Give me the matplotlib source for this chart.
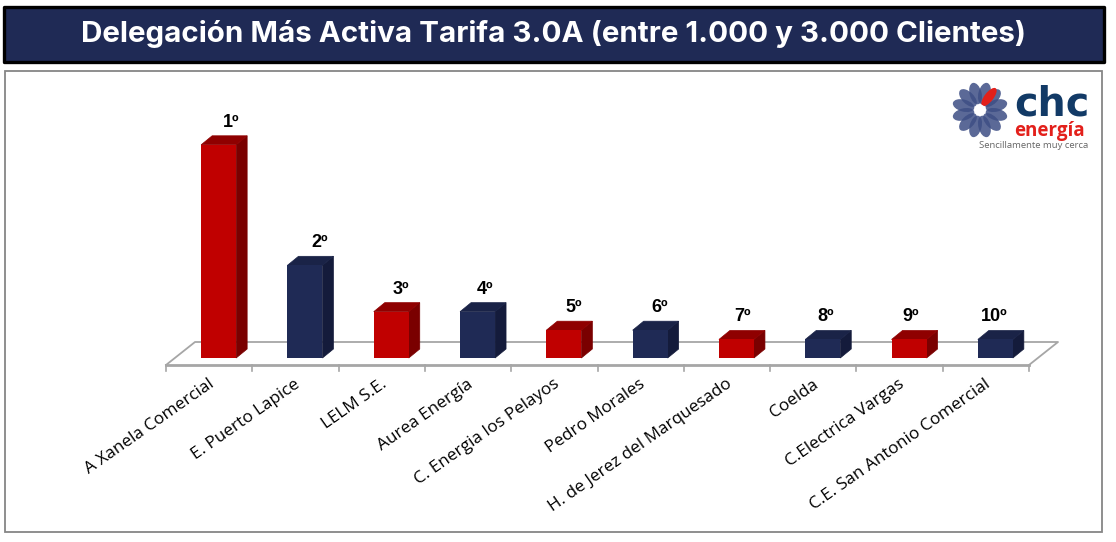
import math

import matplotlib
matplotlib.use('Agg')
import matplotlib.pyplot as plt
from matplotlib.patches import Ellipse, Polygon, Rectangle
from matplotlib.transforms import ScaledTranslation

# data
categories = ['A Xanela Comercial', 'E. Puerto Lapice', 'LELM S.E.', 'Aurea Energía',
              'C. Energia los Pelayos', 'Pedro Morales', 'H. de Jerez del Marquesado',
              'Coelda', 'C.Electrica Vargas', 'C.E. San Antonio Comercial']
values = [23, 10, 5, 5, 3, 3, 2, 2, 2, 2]
ranks = ['1º', '2º', '3º', '4º', '5º', '6º', '7º', '8º', '9º', '10º']
title = 'Delegación Más Activa Tarifa 3.0A (entre 1.000 y 3.000 Clientes)'

NAVY = ('#1F2A55', '#1A2347', '#141B3B')
RED = ('#C00000', '#8F0000', '#7A0000')
GREY = '#A6A6A6'

W, H = 1116, 542
PX_PER_UNIT = 9.27
PX_PER_CAT = 86.3

fig = plt.figure(figsize=(W / 100, H / 100), dpi=100, facecolor='white')

# pixel layer for the frames and the logo
bg = fig.add_axes([0, 0, 1, 1])
bg.set_xlim(0, W)
bg.set_ylim(H, 0)
bg.axis('off')
bg.add_patch(Rectangle((3.5, 6.5), 1100, 55, fc=NAVY[0], ec='black', lw=2.4, joinstyle='round'))
bg.add_patch(Rectangle((5, 71), 1097, 461, fc='white', ec='#868686', lw=1.3))
bg.text(553.5, 34, title, color='white', fontsize=21.3, fontweight='bold', family='Inter',
        ha='center', va='center')

# logo
for i in range(12):
    ang = i * 30 + 15
    cx = 980 + 17 * math.cos(math.radians(ang))
    cy = 110 + 17 * math.sin(math.radians(ang))
    bg.add_patch(Ellipse((cx, cy), 22, 12, angle=ang, fc='#3E4F85', ec='none', alpha=0.85))
bg.add_patch(Ellipse((989, 97), 22, 9, angle=-52, fc='#E3201B', ec='none'))
bg.add_patch(Ellipse((980, 110), 11, 11, fc='white', ec='none'))
bg.text(1014, 116, 'chc', color='#123A66', fontsize=28.5, fontweight='bold', family='DejaVu Sans',
        ha='left', va='baseline')
bg.text(1014, 136, 'energía', color='#E3201B', fontsize=13.5, fontweight='bold', family='Open Sans',
        ha='left', va='baseline')
bg.text(979, 147.5, 'Sencillamente muy cerca', color='#666666', fontsize=6.8, family='Open Sans',
        ha='left', va='baseline')

# chart axes: y=0 sits on the front edge of the floor
ax = fig.add_axes([166 / W, 1 - 365 / H, 863 / W, 295 / H])
ax.set_xlim(-0.5, 9.5)
ax.set_ylim(0, 295 / PX_PER_UNIT)
ax.axis('off')
ax.patch.set_alpha(0)

floor_dx = 29 / PX_PER_CAT
floor_dy = 23 / PX_PER_UNIT
ax.plot([-0.5, -0.5 + floor_dx, 9.5 + floor_dx, 9.5], [0, floor_dy, floor_dy, 0],
        color=GREY, lw=1.3, clip_on=False, zorder=1)
ax.plot([-0.5, 9.5], [0, 0], color=GREY, lw=2, clip_on=False, zorder=1)
for i in range(11):
    ax.plot([i - 0.5, i - 0.5], [0, -6 / PX_PER_UNIT], color=GREY, lw=1.2, clip_on=False, zorder=1)

# bars stand a little behind the front edge of the floor
to_bar = ax.transData + ScaledTranslation(9.5 / 100, 7 / 100, fig.dpi_scale_trans)
bar_w = 35 / PX_PER_CAT
dx = 11 / PX_PER_CAT
dy = 9 / PX_PER_UNIT
label_dx = [22, 24, 19, 17, 19, 19, 16, 12, 11, 8]

for i, v in enumerate(values):
    front, top, side = RED if i in (0, 2, 4, 6, 8) else NAVY
    left, right = i - bar_w / 2, i + bar_w / 2
    ax.bar(i, v, width=bar_w, color=front, transform=to_bar, zorder=3, clip_on=False)
    ax.add_patch(Polygon([(right, 0), (right + dx, dy), (right + dx, v + dy), (right, v)],
                         fc=side, ec=side, lw=0.5, transform=to_bar, zorder=2, clip_on=False))
    ax.add_patch(Polygon([(left, v), (left + dx, v + dy), (right + dx, v + dy), (right, v)],
                         fc=top, ec=top, lw=0.5, transform=to_bar, zorder=2, clip_on=False))
    ax.annotate(ranks[i], xy=(i, v), xytext=(label_dx[i] * 0.72, 29.5 * 0.72), textcoords='offset points',
                ha='center', va='center', fontsize=13, fontweight='bold', family='Liberation Sans',
                annotation_clip=False)
    ax.annotate(categories[i], xy=(i, 0), xytext=(-1, -8), textcoords='offset points',
                ha='right', va='top', rotation=35, rotation_mode='anchor',
                fontsize=12.3, family='Open Sans', color='black', annotation_clip=False)

fig.savefig('out.png', dpi=100)
